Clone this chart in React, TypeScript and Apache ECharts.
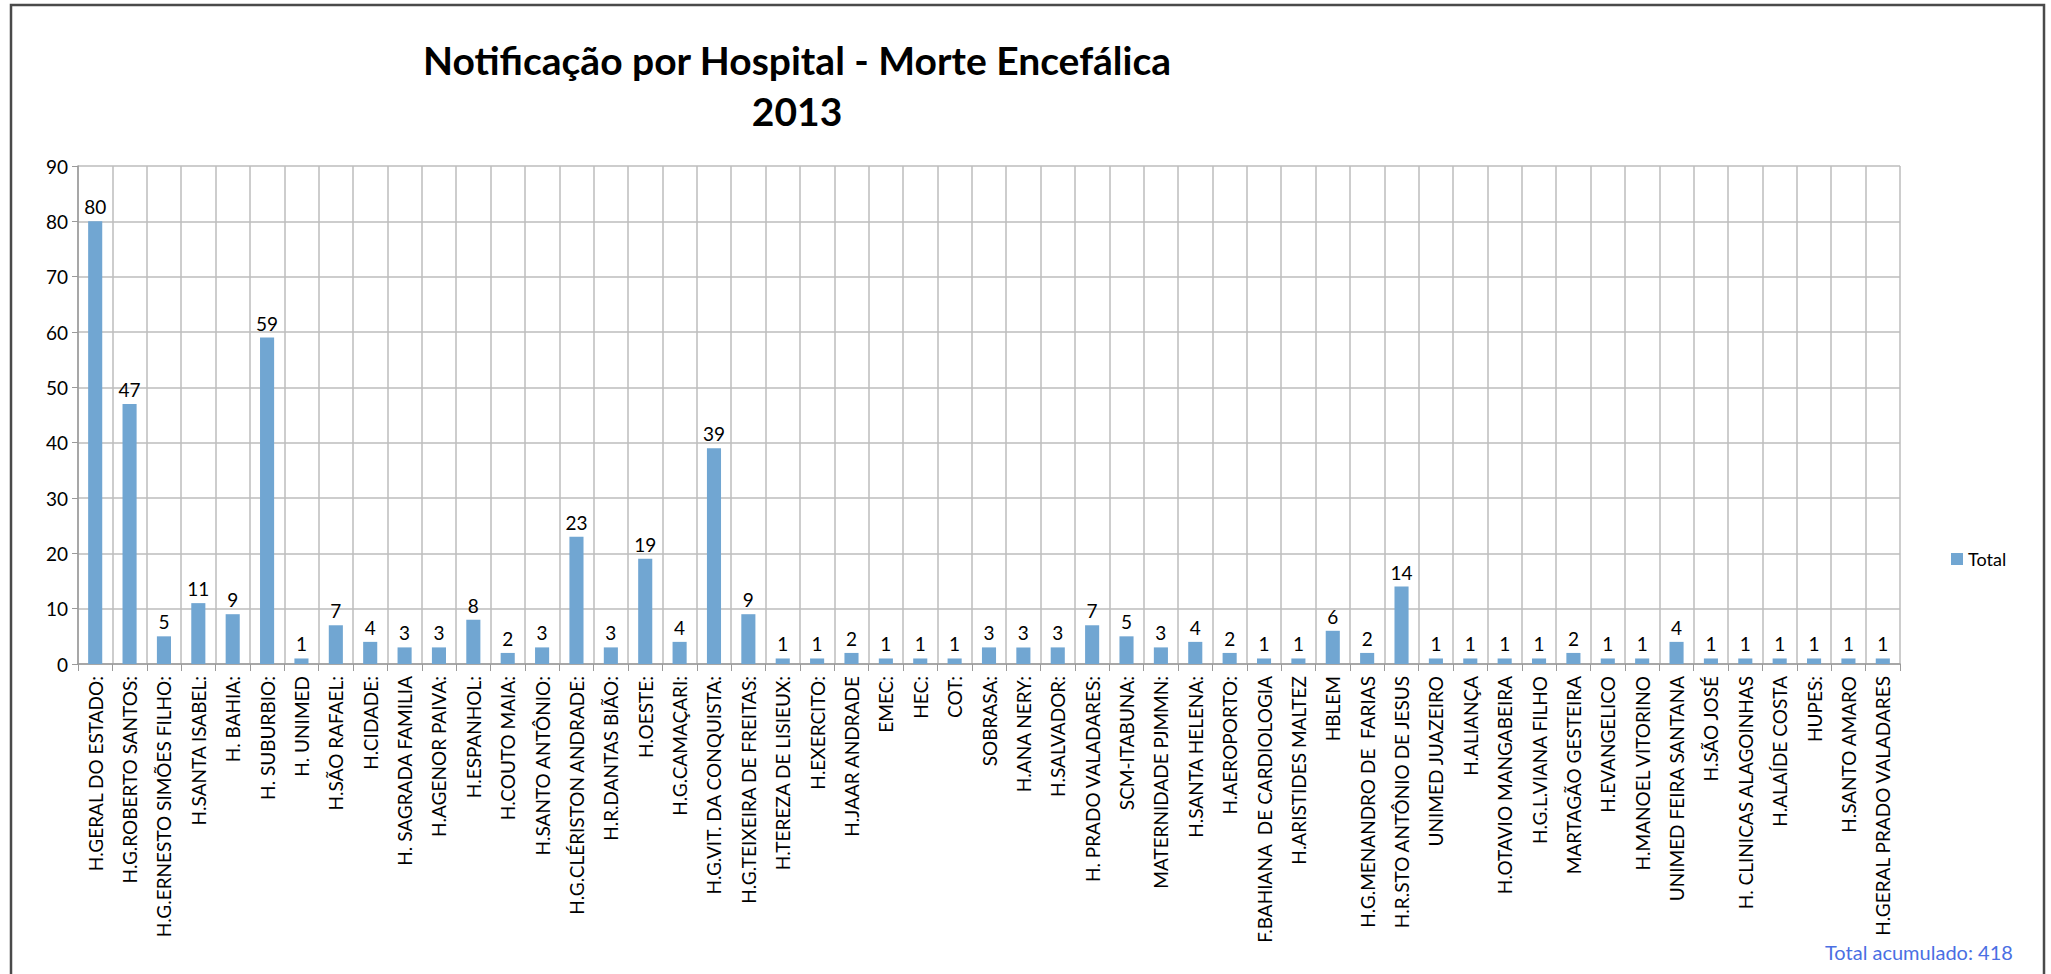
import React, { useEffect, useRef } from "react";
import * as echarts from "echarts";

const categories: string[] = [
  "H.GERAL DO ESTADO:",
  "H.G.ROBERTO SANTOS:",
  "H.G.ERNESTO SIMÕES FILHO:",
  "H.SANTA ISABEL:",
  "H. BAHIA:",
  "H. SUBURBIO:",
  "H. UNIMED",
  "H.SÃO RAFAEL:",
  "H.CIDADE:",
  "H. SAGRADA FAMILIA",
  "H.AGENOR PAIVA:",
  "H.ESPANHOL:",
  "H.COUTO MAIA:",
  "H.SANTO ANTÔNIO:",
  "H.G.CLÉRISTON ANDRADE:",
  "H.R.DANTAS BIÃO:",
  "H.OESTE:",
  "H.G.CAMAÇARI:",
  "H.G.VIT. DA CONQUISTA:",
  "H.G.TEIXEIRA DE FREITAS:",
  "H.TEREZA DE LISIEUX:",
  "H.EXERCITO:",
  "H.JAAR ANDRADE",
  "EMEC:",
  "HEC:",
  "COT:",
  "SOBRASA:",
  "H.ANA NERY:",
  "H.SALVADOR:",
  "H. PRADO VALADARES:",
  "SCM-ITABUNA:",
  "MATERNIDADE PJMMN:",
  "H.SANTA HELENA:",
  "H.AEROPORTO:",
  "F.BAHIANA  DE CARDIOLOGIA",
  "H.ARISTIDES MALTEZ",
  "HBLEM",
  "H.G.MENANDRO DE  FARIAS",
  "H.R.STO ANTÔNIO DE JESUS",
  "UNIMED JUAZEIRO",
  "H.ALIANÇA",
  "H.OTAVIO MANGABEIRA",
  "H.G.L.VIANA FILHO",
  "MARTAGÃO GESTEIRA",
  "H.EVANGELICO",
  "H.MANOEL VITORINO",
  "UNIMED FEIRA SANTANA",
  "H.SÃO JOSÉ",
  "H. CLINICAS ALAGOINHAS",
  "H.ALAÍDE COSTA",
  "HUPES:",
  "H.SANTO AMARO",
  "H.GERAL PRADO VALADARES",
];

const totals: number[] = [
  80, 47, 5, 11, 9, 59, 1, 7, 4, 3, 3, 8, 2, 3, 23, 3, 19, 4, 39, 9, 1, 1, 2, 1,
  1, 1, 3, 3, 3, 7, 5, 3, 4, 2, 1, 1, 6, 2, 14, 1, 1, 1, 1, 2, 1, 1, 4, 1, 1, 1,
  1, 1, 1,
];

const yTicks = { min: 0, max: 90, interval: 10 };
const titleLines = ["Notificação por Hospital - Morte Encefálica", "2013"];
const seriesName = "Total";
const footerText = "Total acumulado: 418";

const FONT = "Lato, 'Open Sans', sans-serif";

export default function App() {
  const ref = useRef<HTMLDivElement>(null);

  useEffect(() => {
    if (!ref.current) return;
    const chart = echarts.init(ref.current, undefined, { renderer: "svg" });
    chart.setOption({
      animation: false,
      backgroundColor: "#ffffff",
      textStyle: { fontFamily: FONT },
      title: {
        text: titleLines.join("\n"),
        left: 792,
        top: 29,
        textAlign: "center",
        textStyle: {
          fontFamily: FONT,
          fontSize: 39,
          fontWeight: "bold",
          color: "#000",
          lineHeight: 51,
        },
      },
      legend: {
        orient: "vertical",
        left: 1946,
        top: 545,
        icon: "rect",
        itemWidth: 12,
        itemHeight: 12,
        itemGap: 4,
        textStyle: { fontFamily: FONT, fontSize: 18, color: "#000" },
        data: [seriesName],
      },
      grid: { left: 78, right: 151, top: 166, bottom: 310, containLabel: false },
      xAxis: {
        type: "category",
        data: categories,
        boundaryGap: true,
        axisLine: { show: true, lineStyle: { color: "#9a9a9a", width: 1.5 } },
        axisTick: { show: true, length: 7, lineStyle: { color: "#9a9a9a" } },
        splitLine: { show: true, lineStyle: { color: "#bdbdbd", width: 1.5 } },
        axisLabel: {
          interval: 0,
          rotate: 90,
          margin: 12,
          fontFamily: FONT,
          fontSize: 19,
          color: "#000",
        },
      },
      yAxis: {
        type: "value",
        min: yTicks.min,
        max: yTicks.max,
        interval: yTicks.interval,
        axisLine: { show: true, lineStyle: { color: "#9a9a9a", width: 1.5 } },
        axisTick: { show: true, length: 6, lineStyle: { color: "#9a9a9a" } },
        splitLine: { show: true, lineStyle: { color: "#bdbdbd", width: 1.5 } },
        axisLabel: { fontFamily: FONT, fontSize: 19, color: "#000", margin: 10 },
      },
      series: [
        {
          name: seriesName,
          type: "bar",
          data: totals,
          barWidth: "41%",
          itemStyle: { color: "#71A6D2" },
          label: {
            show: true,
            position: "top",
            distance: 5,
            fontFamily: FONT,
            fontSize: 19,
            color: "#000",
          },
        },
      ],
      graphic: [
        {
          type: "rect",
          shape: { x: 11, y: 5, width: 2033, height: 980 },
          style: { fill: "none", stroke: "#4a4a4a", lineWidth: 2.5 },
          silent: true,
          z: -1,
        },
        {
          type: "text",
          left: 1825,
          top: 942,
          style: {
            text: footerText,
            fontFamily: FONT,
            fontSize: 20,
            fill: "#4A6FE3",
          },
        },
      ],
    });
    return () => chart.dispose();
  }, []);

  return (
    <div
      ref={ref}
      style={{ position: "fixed", left: 0, top: 0, width: 2051, height: 974 }}
    />
  );
}
